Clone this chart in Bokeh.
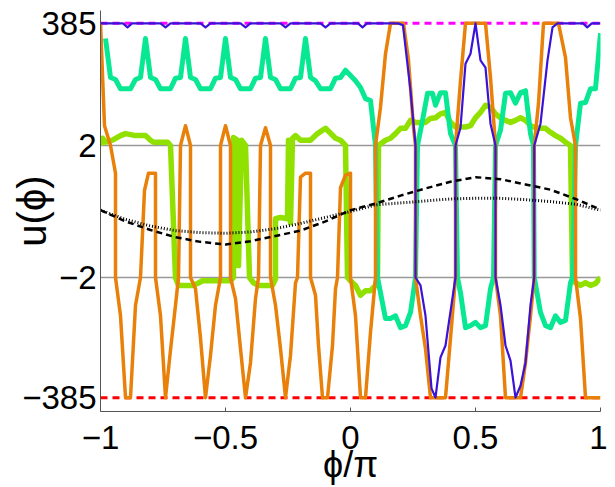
from bokeh.plotting import figure
from bokeh.models import FixedTicker
from bokeh.embed import file_html
from bokeh.resources import INLINE

# y is drawn on a compressed display scale: s = u/2 for |u| <= 2, and u = +-385 sits at s = 2.85 / -2.82
y_tick_pos = [-2.82, -1.0, 1.0, 2.85]
y_tick_labels = ["\u2212385", "\u22122", "2", "385"]
x_tick_pos = [-1.0, -0.5, 0.0, 0.5, 1.0]
x_tick_labels = ["\u22121", "\u22120.5", "0", "0.5", "1"]

# reference levels u = +-2 and u = +-385
ref_x = [-1.0, 1.0]
level_p2 = [1.0, 1.0]
level_m2 = [-1.0, -1.0]
level_top = [2.85, 2.85]
level_bot = [-2.82, -2.82]

grid_x = [-1.0, -0.9, -0.8, -0.7, -0.6, -0.5, -0.4, -0.3, -0.2, -0.1, 0.0,
          0.1, 0.2, 0.3, 0.4, 0.5, 0.6, 0.7, 0.8, 0.9, 1.0]
dashed_s = [0.02, -0.15, -0.28, -0.39, -0.46, -0.50, -0.45, -0.37, -0.29, -0.15, 0.02,
            0.12, 0.24, 0.35, 0.45, 0.52, 0.49, 0.41, 0.33, 0.19, 0.03]
dotted_s = [0.02, -0.12, -0.22, -0.29, -0.32, -0.33, -0.31, -0.26, -0.18, -0.09, 0.0,
            0.10, 0.13, 0.16, 0.19, 0.20, 0.20, 0.18, 0.15, 0.11, 0.02]

blue_x = [-1.0, -0.91, -0.892, -0.874, -0.76, -0.74, -0.72, -0.60, -0.58, -0.56,
          -0.44, -0.42, -0.40, -0.28, -0.26, -0.24, -0.12, -0.10, -0.08, 0.03, 0.048, 0.066,
          0.19, 0.21, 0.24, 0.26, 0.26, 0.28, 0.30, 0.324, 0.34, 0.36, 0.38, 0.42, 0.42,
          0.44, 0.46, 0.48, 0.50, 0.52, 0.54, 0.56, 0.58, 0.58, 0.60, 0.62, 0.64, 0.66,
          0.68, 0.70, 0.72, 0.735, 0.735, 0.76, 0.788, 0.808, 0.828, 0.93, 0.947, 0.965, 1.0]
blue_s = [2.85, 2.85, 2.79, 2.85, 2.85, 2.79, 2.85, 2.85, 2.79, 2.85,
          2.85, 2.79, 2.85, 2.85, 2.79, 2.85, 2.85, 2.79, 2.85, 2.85, 2.79, 2.85,
          2.85, 2.82, 1.83, 1.0, -1.0, -1.12, -1.58, -2.68, -2.82, -2.21, -2.03, -1.0, 1.0,
          1.27, 2.24, 2.39, 2.85, 2.29, 2.18, 1.33, 1.0, -1.0, -1.42, -2.03, -2.26, -2.82,
          -2.64, -2.29, -1.42, -1.0, 1.0, 1.33, 2.29, 2.79, 2.85, 2.85, 2.79, 2.85, 2.85]

orange_x = [-1.0, -0.984, -0.96, -0.94, -0.94, -0.92, -0.90, -0.88, -0.86, -0.84,
            -0.824, -0.808, -0.78, -0.78, -0.76, -0.74, -0.72, -0.70, -0.688,
            -0.68, -0.66, -0.64, -0.64, -0.62, -0.60, -0.58, -0.56, -0.54, -0.52,
            -0.52, -0.50, -0.48, -0.48, -0.46, -0.44, -0.42, -0.40, -0.38, -0.368,
            -0.36, -0.34, -0.32, -0.32, -0.30, -0.28, -0.26, -0.24, -0.22, -0.212,
            -0.20, -0.18, -0.16, -0.16, -0.14, -0.128, -0.112, -0.092, -0.072, -0.06, -0.052,
            -0.04, -0.02, 0.0, 0.0, 0.02, 0.04, 0.06, 0.08, 0.10,
            0.10, 0.12, 0.14, 0.16, 0.212, 0.232, 0.252, 0.26,
            0.26, 0.28, 0.30, 0.32, 0.38, 0.40, 0.42,
            0.42, 0.44, 0.46, 0.54, 0.56, 0.58,
            0.58, 0.60, 0.62, 0.68, 0.70, 0.72, 0.735,
            0.735, 0.752, 0.772, 0.832, 0.86, 0.88, 0.90,
            0.90, 0.92, 0.94, 1.0]
orange_s = [2.85, 1.30, 1.0, 0.58, -1.0, -1.58, -2.82, -2.82, -1.42, -1.0,
            0.32, 0.58, 0.58, -1.0, -1.58, -2.82, -2.10, -1.42, -1.0,
            1.0, 1.30, 1.0, -1.0, -1.17, -1.92, -2.82, -2.18, -1.42, -1.0,
            1.0, 1.30, 1.0, -1.0, -1.32, -2.08, -2.82, -2.29, -1.32, -1.0,
            1.0, 1.27, 1.0, -1.0, -1.42, -2.08, -2.82, -2.18, -1.08, -1.0,
            0.52, 0.58, 0.58, -1.0, -1.27, -2.03, -2.82, -2.82, -2.03, -1.17, -1.0,
            0.36, 0.55, 0.58, -1.0, -1.58, -2.82, -2.82, -1.83, -1.0,
            1.0, 1.58, 2.39, 2.85, 2.85, 2.29, 1.27, 1.0,
            -1.0, -1.58, -2.08, -2.82, -2.82, -1.92, -1.0,
            1.0, 1.98, 2.85, 2.85, 2.03, 1.0,
            -1.0, -1.58, -2.82, -2.82, -2.29, -1.58, -1.0,
            1.0, 1.64, 2.85, 2.85, 2.33, 1.42, 1.0,
            -1.0, -1.62, -2.82, -2.82]

teal_x = [-0.98, -0.96, -0.94, -0.92, -0.88, -0.86, -0.84,
          -0.82, -0.80, -0.78, -0.76, -0.72, -0.70, -0.68,
          -0.66, -0.64, -0.62, -0.60, -0.56, -0.54, -0.52,
          -0.50, -0.48, -0.46, -0.44, -0.40, -0.38, -0.36,
          -0.34, -0.32, -0.30, -0.28, -0.24, -0.22, -0.20,
          -0.18, -0.16, -0.14, -0.12, -0.08, -0.06, -0.04,
          -0.02, 0.0, 0.02, 0.04, 0.06, 0.08, 0.10, 0.108,
          0.12, 0.14, 0.16, 0.18, 0.20, 0.22, 0.24, 0.26, 0.268,
          0.288, 0.308, 0.328, 0.34, 0.36, 0.38, 0.40, 0.42, 0.428,
          0.44, 0.46, 0.48, 0.50, 0.52, 0.54, 0.56, 0.572, 0.58,
          0.60, 0.62, 0.64, 0.66, 0.68, 0.70, 0.72, 0.732, 0.735,
          0.748, 0.76, 0.78, 0.80, 0.82, 0.84, 0.86, 0.88, 0.888, 0.90,
          0.92, 0.94, 0.96, 0.98, 1.0]
teal_s = [2.62, 2.03, 2.0, 1.86, 1.86, 2.0, 2.03,
          2.62, 2.03, 2.0, 1.86, 1.86, 2.02, 2.03,
          2.62, 2.03, 2.0, 1.86, 1.86, 2.02, 2.03,
          2.62, 2.03, 2.0, 1.86, 1.86, 2.02, 2.03,
          2.62, 2.03, 2.0, 1.86, 1.86, 2.02, 2.03,
          2.62, 2.03, 1.98, 1.86, 1.86, 2.02, 2.03,
          2.14, 2.06, 1.98, 1.88, 1.71, 1.68, 1.0, -1.0,
          -1.23, -1.62, -1.62, -1.58, -1.76, -1.73, -1.53, -1.0, 1.0,
          1.38, 1.79, 1.79, 1.61, 1.80, 1.80, 1.18, 1.0, -1.0,
          -1.23, -1.76, -1.73, -1.68, -1.76, -1.73, -1.17, -1.0, 1.0,
          1.23, 1.79, 1.80, 1.64, 1.80, 1.83, 1.18, 1.0, -1.0,
          -1.27, -1.53, -1.73, -1.76, -1.58, -1.68, -1.65, -1.08, -1.0, 1.0,
          1.64, 1.65, 1.86, 1.86, 2.70]

lime_x = [-1.0, -0.992, -0.98, -0.952, -0.92, -0.90, -0.86, -0.82, -0.80, -0.788, -0.732, -0.72,
          -0.70, -0.688, -0.632, -0.612, -0.592, -0.50, -0.48, -0.468, -0.468, -0.452, -0.448,
          -0.436, -0.42, -0.404, -0.388, -0.368, -0.312, -0.30, -0.30, -0.28, -0.252, -0.248,
          -0.24, -0.232, -0.22, -0.20, -0.16, -0.132, -0.10, -0.06, -0.04, -0.02, -0.012,
          0.0, 0.02, 0.04, 0.06, 0.08, 0.10, 0.108, 0.112, 0.14, 0.16, 0.18, 0.20, 0.22,
          0.24, 0.26, 0.28, 0.30, 0.32, 0.34, 0.36, 0.38, 0.40, 0.42, 0.44, 0.46, 0.48,
          0.50, 0.52, 0.54, 0.56, 0.58, 0.60, 0.62, 0.64, 0.66, 0.68, 0.70, 0.72, 0.74,
          0.76, 0.78, 0.80, 0.82, 0.84, 0.86, 0.88, 0.888, 0.90, 0.92, 0.94, 0.96, 0.98, 1.0]
lime_s = [1.0, 1.11, 1.05, 1.08, 1.15, 1.18, 1.15, 1.15, 1.08, 1.05, 1.05, 1.0,
          -1.0, -1.12, -1.12, -1.09, -1.05, -1.05, -1.05, -1.0, 1.12, 1.08, -0.82,
          1.08, 1.0, -1.0, -1.08, -1.12, -1.12, -1.02, -0.11, -0.09, -0.11, 1.08,
          -0.17, 1.11, 1.15, 1.08, 1.08, 1.18, 1.26, 1.11, 1.08, 1.0, -1.0,
          -1.05, -1.12, -1.27, -1.20, -1.20, -1.12, -1.0, 1.0, 1.08, 1.11, 1.18, 1.26, 1.26,
          1.38, 1.35, 1.35, 1.35, 1.41, 1.42, 1.48, 1.50, 1.35, 1.28, 1.28, 1.28, 1.30,
          1.42, 1.50, 1.61, 1.58, 1.48, 1.42, 1.38, 1.35, 1.38, 1.42, 1.38, 1.30, 1.27,
          1.26, 1.26, 1.20, 1.15, 1.11, 1.05, 1.0, -1.0, -1.08, -1.12, -1.08, -1.12, -1.09, -1.0]

for a, b in [(blue_x, blue_s), (orange_x, orange_s), (teal_x, teal_s), (lime_x, lime_s),
             (grid_x, dashed_s), (grid_x, dotted_s)]:
    assert len(a) == len(b), (len(a), len(b))

FONT = "Liberation Sans"

p = figure(width=607, height=487, x_range=(-1.0, 1.0), y_range=(-3.03, 3.045),
           output_backend="svg", toolbar_location=None,
           min_border_left=100, min_border_right=7, min_border_top=10, min_border_bottom=76)
p.outline_line_color = None
p.grid.visible = False
p.background_fill_color = "white"

# axes
p.xaxis.ticker = FixedTicker(ticks=x_tick_pos)
p.xaxis.major_label_overrides = dict(zip(x_tick_pos, x_tick_labels))
p.yaxis.ticker = FixedTicker(ticks=y_tick_pos)
p.yaxis.major_label_overrides = dict(zip(y_tick_pos, y_tick_labels))
for ax in (p.xaxis, p.yaxis):
    ax.minor_tick_line_color = None
    ax.major_tick_out = 0
    ax.axis_line_color = "#555555"
    ax.major_tick_line_color = "#555555"
    ax.major_label_text_font = FONT
    ax.major_label_text_font_size = "33px"
    ax.major_label_text_color = "black"
    ax.axis_label_text_font = FONT
    ax.axis_label_text_font_style = "normal"
    ax.axis_label_text_color = "black"
p.xaxis.major_tick_in = 4
p.yaxis.major_tick_in = 0
p.xaxis.major_label_standoff = 14
p.yaxis.major_label_standoff = 4
p.xaxis.axis_label = "\u03d5/\u03c0"
p.xaxis.axis_label_text_font_size = "36px"
p.xaxis.axis_label_standoff = -8
p.yaxis.axis_label = "u(\u03d5)"
p.yaxis.axis_label_text_font_size = "40px"
p.yaxis.axis_label_standoff = -35

# reference levels
p.line(ref_x, level_p2, line_color="#999999", line_width=1.5)
p.line(ref_x, level_m2, line_color="#999999", line_width=1.5)
p.line(ref_x, level_top, line_color="#ff00ff", line_width=3, line_dash="7 5")
p.line(ref_x, level_bot, line_color="#ff0000", line_width=3, line_dash="7 5")

# curves
p.line(lime_x, lime_s, line_color="#90e000", line_width=5.5, line_join="round")
p.line(teal_x, teal_s, line_color="#08e892", line_width=5, line_join="round")
p.line(orange_x, orange_s, line_color="#e8800a", line_width=3.5, line_join="round")
p.line(blue_x, blue_s, line_color="#3a12d8", line_width=2.2, line_join="round")
p.line(grid_x, dashed_s, line_color="black", line_width=2.5, line_dash="6 4")
p.line(grid_x, dotted_s, line_color="black", line_width=3, line_dash="1 2")

open("out.html", "w").write(file_html(p, INLINE))
